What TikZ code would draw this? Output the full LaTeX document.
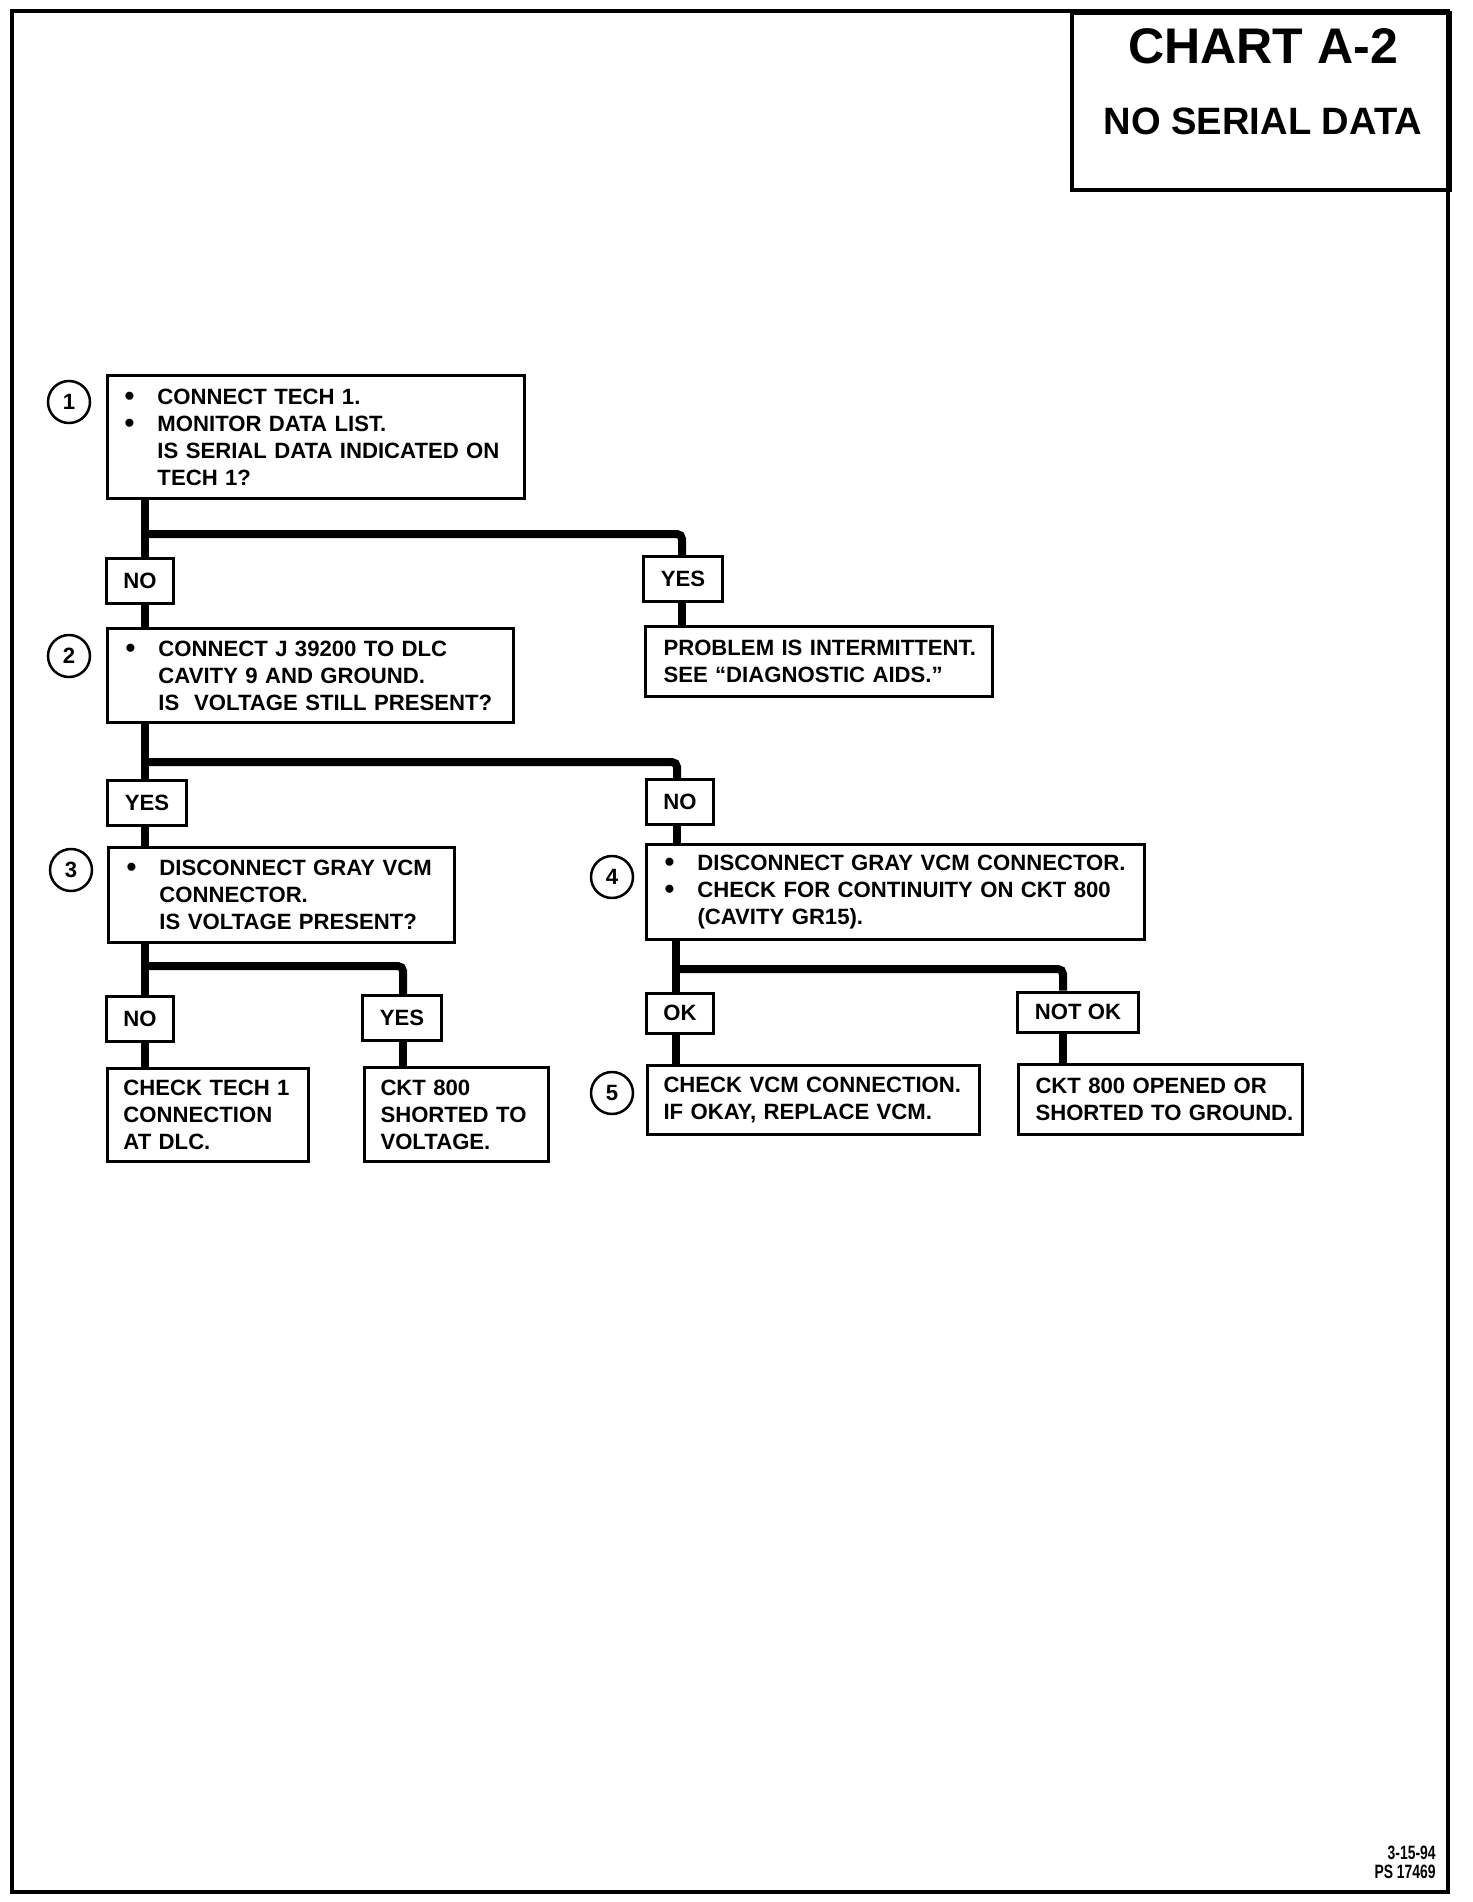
\documentclass[tikz,border=0pt]{standalone}
\usepackage{fontspec}
\setmainfont{Liberation Sans}
\newcommand{\bitem}{\leavevmode\llap{\raisebox{-0.05em}{\fontsize{16}{16}\selectfont\textbullet}\hspace{0.46cm}}}
\begin{document}
\begin{tikzpicture}[x=0.02cm,y=-0.02cm]
    \tikzstyle{box}=[draw, line width=0.06cm, anchor=north west, inner sep=0pt, align=left, font=\bfseries\fontsize{12.6}{15.4}\selectfont]
    \tikzstyle{answer}=[draw, line width=0.06cm, inner xsep=0.34cm, inner ysep=0pt, minimum height=0.9cm, font=\bfseries\fontsize{12.6}{15.4}\selectfont]
    \tikzstyle{num}=[circle, draw, line width=0.05cm, minimum size=0.84cm, inner sep=0pt, font=\bfseries\fontsize{12.6}{15.4}\selectfont]
    \tikzstyle{flow}=[line width=0.16cm, rounded corners=0.1cm]

    \useasboundingbox (0,0) rectangle (1472,1902);
    \draw[line width=0.08cm] (12,11) rectangle (1448,1892);

    % title block
    \node[draw, line width=0.08cm, anchor=north west, minimum width=7.56cm, minimum height=3.54cm] (title) at (1070,11) {};
    \node[font=\bfseries\fontsize{28.5}{30}\selectfont] (chart) at (1263,46) {CHART A-2};
    \node[font=\bfseries\fontsize{21.7}{24}\selectfont] (chartname) at (1263,121) {NO SERIAL DATA};

    % steps
    \node[box, text width=8.34cm, minimum height=2.46cm] (q1) at (106,374) {\leftskip=1cm
      \bitem CONNECT TECH 1.\\
      \bitem MONITOR DATA LIST.\\
      IS SERIAL DATA INDICATED ON\\
      TECH 1?\par};
    \node[box, text width=8.12cm, minimum height=1.88cm] (q2) at (106,627) {\leftskip=1.02cm
      \bitem CONNECT J 39200 TO DLC\\
      CAVITY 9 AND GROUND.\\
      IS \ VOLTAGE STILL PRESENT?\par};
    \node[box, text width=6.94cm, minimum height=1.4cm] (intm) at (644,625) {\leftskip=0.36cm
      PROBLEM IS INTERMITTENT.\\
      SEE “DIAGNOSTIC AIDS.”\par};
    \node[box, text width=6.92cm, minimum height=1.9cm] (q3) at (107,846) {\leftskip=1.02cm
      \bitem DISCONNECT GRAY VCM\\
      CONNECTOR.\\
      IS VOLTAGE PRESENT?\par};
    \node[box, text width=9.96cm, minimum height=1.9cm] (q4) at (645,843) {\leftskip=1.02cm
      \bitem DISCONNECT GRAY VCM CONNECTOR.\\
      \bitem CHECK FOR CONTINUITY ON CKT 800\\
      (CAVITY GR15).\par};
    \node[box, text width=4.02cm, minimum height=1.86cm] (r1) at (106,1067) {\leftskip=0.32cm
      CHECK TECH 1\\
      CONNECTION\\
      AT DLC.\par};
    \node[box, text width=3.68cm, minimum height=1.88cm] (r2) at (363,1066) {\leftskip=0.32cm
      CKT 800\\
      SHORTED TO\\
      VOLTAGE.\par};
    \node[box, text width=6.64cm, minimum height=1.38cm] (q5) at (646,1064) {\leftskip=0.32cm
      CHECK VCM CONNECTION.\\
      IF OKAY, REPLACE VCM.\par};
    \node[box, text width=5.68cm, minimum height=1.4cm] (r3) at (1017,1063) {\leftskip=0.34cm
      CKT 800 OPENED OR\\
      SHORTED TO GROUND.\par};

    % step numbers
    \node[num] (n1) at (69,402) {1};
    \node[num] (n2) at (69,656) {2};
    \node[num] (n3) at (71,870) {3};
    \node[num] (n4) at (612,877) {4};
    \node[num] (n5) at (612,1093) {5};

    % answers
    \node[answer] (no1) at (140,581) {NO};
    \node[answer] (yes1) at (683,579) {YES};
    \node[answer] (yes2) at (147,803) {YES};
    \node[answer] (no2) at (680,802) {NO};
    \node[answer] (no3) at (140,1019) {NO};
    \node[answer] (yes3) at (402,1018) {YES};
    \node[answer, minimum height=0.8cm] (ok) at (680,1013) {OK};
    \node[answer, minimum height=0.8cm] (notok) at (1078,1012) {NOT OK};

    % branch points
    \coordinate (j1) at (145,534);
    \coordinate (j1r) at (682,534);
    \coordinate (j2) at (145,762);
    \coordinate (j2r) at (677,762);
    \coordinate (j3) at (145,966);
    \coordinate (j3r) at (403,966);
    \coordinate (j4) at (676,969);
    \coordinate (j4r) at (1063,969);

    \draw[flow] (q1.south -| j1) -- (no1.north -| j1);
    \draw[flow] (j1) -- (j1r) -- (yes1.north -| j1r);
    \draw[flow] (no1.south -| j1) -- (q2.north -| j1);
    \draw[flow] (yes1.south -| j1r) -- (intm.north -| j1r);

    \draw[flow] (q2.south -| j2) -- (yes2.north -| j2);
    \draw[flow] (j2) -- (j2r) -- (no2.north -| j2r);
    \draw[flow] (yes2.south -| j2) -- (q3.north -| j2);
    \draw[flow] (no2.south -| j2r) -- (q4.north -| j2r);

    \draw[flow] (q3.south -| j3) -- (no3.north -| j3);
    \draw[flow] (j3) -- (j3r) -- (yes3.north -| j3r);
    \draw[flow] (no3.south -| j3) -- (r1.north -| j3);
    \draw[flow] (yes3.south -| j3r) -- (r2.north -| j3r);

    \draw[flow] (q4.south -| j4) -- (ok.north -| j4);
    \draw[flow] (j4) -- (j4r) -- (notok.north -| j4r);
    \draw[flow] (ok.south -| j4) -- (q5.north -| j4);
    \draw[flow] (notok.south -| j4r) -- (r3.north -| j4r);

    \node[anchor=north east, align=right, inner sep=0pt, font=\bfseries\fontsize{11}{10.8}\selectfont] (psnum) at (1436,1846) {\scalebox{0.72}[1]{3-15-94}\\\scalebox{0.72}[1]{PS 17469}};
\end{tikzpicture}
\end{document}
